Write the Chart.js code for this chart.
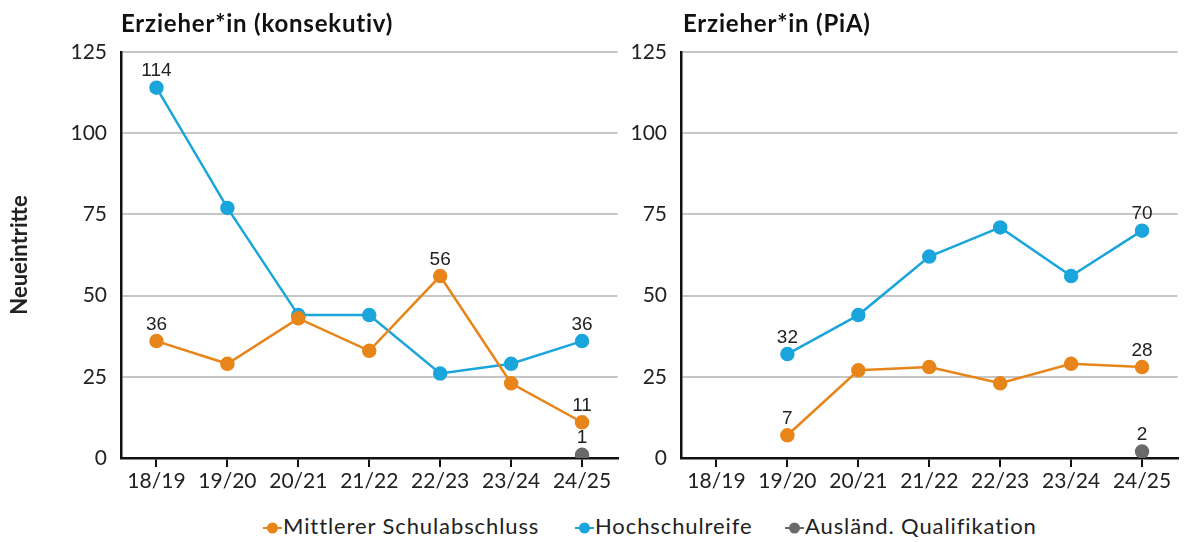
<!DOCTYPE html>
<html>
<head>
<meta charset="utf-8">
<script src="https://cdn.jsdelivr.net/npm/chart.js@4"></script>
<style>
  body { margin: 0; background: #fff; width: 1192px; height: 542px; position: relative; overflow: hidden; font-family: Lato, sans-serif; }
  .box { position: absolute; top: 0; height: 500px; }
  .title { position: absolute; top: 8px; font: bold 24px Lato, sans-serif; letter-spacing: 0.8px; color: #111; }
  .item { position: absolute; top: 512px; font: 22px Lato, sans-serif; letter-spacing: 0.9px; color: #222; white-space: nowrap; }
  .item svg { vertical-align: 0px; margin-right: 1px; }
</style>
</head>
<body>
<div class="box" style="left:0;width:626px"><canvas id="left"></canvas></div>
<div class="box" style="left:632px;width:554px"><canvas id="right"></canvas></div>
<div class="title" style="left:121px">Erzieher*in (konsekutiv)</div>
<div class="title" style="left:683px">Erzieher*in (PiA)</div>
<script>
// categories and values
const categories = ['18/19', '19/20', '20/21', '21/22', '22/23', '23/24', '24/25'];
const seriesNames = ['Mittlerer Schulabschluss', 'Hochschulreife', 'Ausländ. Qualifikation'];
const colors = ['#e8851a', '#1aa5dc', '#6a6a6a'];

const konsMittlerer = [36, 29, 43, 33, 56, 23, 11];
const konsHochschul = [114, 77, 44, 44, 26, 29, 36];
const konsAusland = [null, null, null, null, null, null, 1];

const piaMittlerer = [null, 7, 27, 28, 23, 29, 28];
const piaHochschul = [null, 32, 44, 62, 71, 56, 70];
const piaAusland = [null, null, null, null, null, null, 2];

// which points get a value label
const konsLabels = [[0, 4, 6], [0, 6], [6]];
const piaLabels = [[1, 6], [1, 6], [6]];

const yTicks = [0, 25, 50, 75, 100, 125];

// small plugin to write the numbers above the points
const valueLabels = {
    id: 'valueLabels',
    afterDatasetsDraw(chart) {
        const ctx = chart.ctx;
        ctx.save();
        ctx.font = '19px "Liberation Sans", Arial, sans-serif';
        ctx.fillStyle = '#222';
        ctx.textAlign = 'center';
        ctx.textBaseline = 'bottom';
        chart.data.datasets.forEach((ds, i) => {
            const meta = chart.getDatasetMeta(i);
            ds.labelIdx.forEach(j => {
                const pt = meta.data[j];
                ctx.fillText(ds.data[j], pt.x, pt.y - 7);
            });
        });
        ctx.restore();
    }
};

function makeChart(id, values, labelIdx, yWidth, showTitle) {
    const datasets = values.map((v, i) => ({
        label: seriesNames[i],
        data: v,
        labelIdx: labelIdx[i],
        borderColor: colors[i],
        backgroundColor: colors[i],
        borderWidth: 2.5,
        pointRadius: 6,
        pointHoverRadius: 6,
        spanGaps: false
    }));
    return new Chart(document.getElementById(id), {
        type: 'line',
        data: { labels: categories, datasets: datasets },
        plugins: [valueLabels],
        options: {
            responsive: true,
            maintainAspectRatio: false,
            animation: false,
            layout: { padding: { top: 52, right: 0, left: 0, bottom: 0 } },
            plugins: { legend: { display: false }, tooltip: { enabled: false } },
            scales: {
                x: {
                    offset: true,
                    border: { color: '#111', width: 2.5 },
                    grid: { drawOnChartArea: false, drawTicks: true, tickLength: 9, color: '#111', lineWidth: 2 },
                    ticks: { font: { family: 'Lato', size: 21 }, color: '#222', padding: 2, maxRotation: 0 },
                    afterFit: s => { s.height = 42; }
                },
                y: {
                    min: 0,
                    max: 125,
                    afterBuildTicks: s => { s.ticks = yTicks.map(v => ({ value: v })); },
                    border: { color: '#111', width: 2.5 },
                    grid: { color: '#c6c6c6', lineWidth: 2, drawTicks: false },
                    ticks: { font: { family: 'Lato', size: 21 }, color: '#222', padding: 14 },
                    title: {
                        display: showTitle,
                        text: 'Neueintritte',
                        font: { family: 'Lato', size: 22, weight: 'bold' },
                        color: '#222',
                        padding: { top: 7, bottom: 0 }
                    },
                    afterFit: s => { s.width = yWidth; }
                }
            }
        }
    });
}

makeChart('left', [konsMittlerer, konsHochschul, konsAusland], konsLabels, 121, true);
makeChart('right', [piaMittlerer, piaHochschul, piaAusland], piaLabels, 49, false);

// shared legend below both charts
const legendX = [263, 575, 785];
seriesNames.forEach((name, i) => {
    const item = document.createElement('div');
    item.className = 'item';
    item.style.left = legendX[i] + 'px';
    item.innerHTML = '<svg width="19" height="12"><line x1="0" y1="6" x2="19" y2="6" stroke="' + colors[i] +
        '" stroke-width="2"/><circle cx="9.5" cy="6" r="5.5" fill="' + colors[i] + '"/></svg>' + name;
    document.body.appendChild(item);
});
</script>
</body>
</html>
